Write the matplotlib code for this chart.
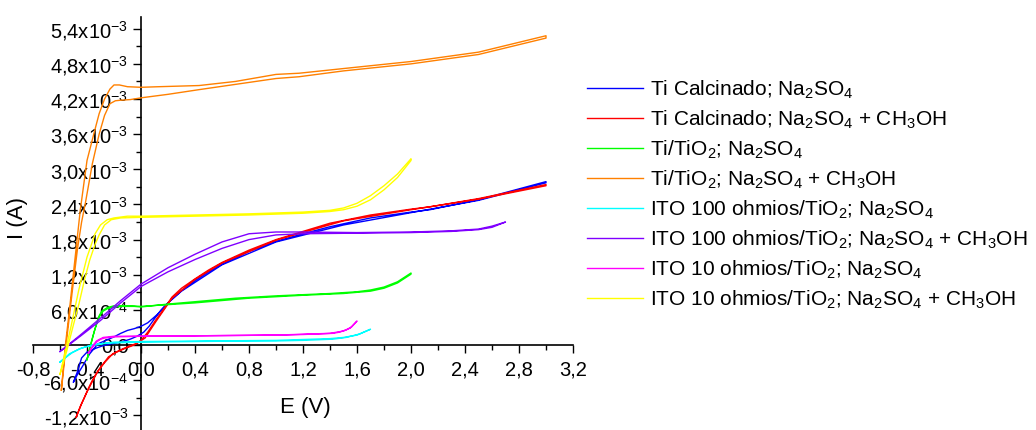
import matplotlib
matplotlib.use("Agg")
import matplotlib.pyplot as plt
from matplotlib.ticker import AutoMinorLocator

plt.rcParams['font.family'] = ['Liberation Sans', 'DejaVu Sans']
plt.rcParams['mathtext.fontset'] = 'custom'
plt.rcParams['mathtext.rm'] = 'Liberation Sans'
plt.rcParams['mathtext.it'] = 'Liberation Sans:italic'
plt.rcParams['mathtext.bf'] = 'Liberation Sans:bold'

# ---------------- data (E in V, I in mA) ----------------
labels = [
    'Ti Calcinado; Na$_2$SO$_4$',
    'Ti Calcinado; Na$_2$SO$_4$ + CH$_3$OH',
    'Ti/TiO$_2$; Na$_2$SO$_4$',
    'Ti/TiO$_2$; Na$_2$SO$_4$ + CH$_3$OH',
    'ITO 100 ohmios/TiO$_2$; Na$_2$SO$_4$',
    'ITO 100 ohmios/TiO$_2$; Na$_2$SO$_4$ + CH$_3$OH',
    'ITO 10 ohmios/TiO$_2$; Na$_2$SO$_4$',
    'ITO 10 ohmios/TiO$_2$; Na$_2$SO$_4$ + CH$_3$OH',
]
colors = ['#0000FF', '#FF0000', '#00FF00', '#FF8000',
          '#00FFFF', '#8000FF', '#FF00FF', '#FFFF00']

# Ti Calcinado; Na2SO4 (blue)
blue_E_fwd = [-0.50, -0.47, -0.44, -0.40, -0.36, -0.33, -0.28, -0.22, -0.15, -0.08, -0.03, 0.02, 0.06, 0.10, 0.15, 0.20, 0.30, 0.40, 0.50, 0.60, 0.80, 1.00, 1.20, 1.40, 1.70, 2.00, 2.14, 2.50, 3.00]
blue_I_fwd = [-0.63, -0.45, -0.22, -0.12, -0.08, -0.05, -0.01, 0.02, 0.05, 0.10, 0.15, 0.22, 0.32, 0.45, 0.60, 0.72, 0.93, 1.10, 1.25, 1.38, 1.60, 1.77, 1.90, 2.02, 2.17, 2.27, 2.31, 2.48, 2.79]
blue_E_rev = [3.00, 2.50, 2.00, 1.50, 1.00, 0.60, 0.30, 0.20, 0.12, 0.05, 0.00, -0.05, -0.10, -0.15, -0.20, -0.26, -0.32, -0.38, -0.43, -0.47, -0.50]
blue_I_rev = [2.77, 2.47, 2.26, 2.05, 1.76, 1.37, 0.92, 0.72, 0.52, 0.38, 0.32, 0.28, 0.25, 0.20, 0.14, 0.08, 0.02, -0.15, -0.35, -0.50, -0.63]

# Ti Calcinado; Na2SO4 + CH3OH (red)
red_E_fwd = [-0.48, -0.45, -0.42, -0.39, -0.36, -0.33, -0.30, -0.24, -0.18, -0.11, -0.05, 0.00, 0.05, 0.11, 0.17, 0.23, 0.30, 0.40, 0.50, 0.60, 0.80, 1.00, 1.20, 1.40, 1.70, 2.00, 2.14, 2.50, 3.00]
red_I_fwd = [-1.23, -1.05, -0.90, -0.74, -0.60, -0.48, -0.38, -0.20, -0.12, -0.05, 0.00, 0.08, 0.22, 0.43, 0.62, 0.82, 0.97, 1.13, 1.28, 1.41, 1.62, 1.80, 1.94, 2.08, 2.22, 2.32, 2.36, 2.50, 2.74]
red_E_rev = [3.00, 2.50, 2.00, 1.50, 1.00, 0.60, 0.40, 0.23, 0.11, 0.03, -0.03, -0.09, -0.15, -0.21, -0.27, -0.32, -0.36, -0.40, -0.44, -0.48]
red_I_rev = [2.72, 2.49, 2.31, 2.12, 1.79, 1.40, 1.12, 0.80, 0.40, 0.12, 0.03, -0.02, -0.08, -0.15, -0.30, -0.45, -0.62, -0.80, -1.00, -1.23]

# Ti/TiO2; Na2SO4 (green)
green_E_fwd = [-0.40, -0.38, -0.36, -0.34, -0.32, -0.30, -0.28, -0.25, -0.21, -0.15, -0.05, 0.00, 0.20, 0.40, 0.70, 1.00, 1.20, 1.40, 1.60, 1.70, 1.80, 1.90, 2.00]
green_I_fwd = [-0.25, -0.05, 0.12, 0.28, 0.42, 0.52, 0.58, 0.62, 0.64, 0.66, 0.66, 0.65, 0.70, 0.74, 0.80, 0.84, 0.86, 0.88, 0.91, 0.94, 0.99, 1.08, 1.23]
green_E_rev = [2.00, 1.90, 1.80, 1.70, 1.50, 1.20, 0.80, 0.40, 0.00, -0.10, -0.20, -0.25, -0.29, -0.31, -0.33, -0.35, -0.37, -0.40]
green_I_rev = [1.21, 1.06, 0.97, 0.92, 0.88, 0.85, 0.80, 0.72, 0.66, 0.67, 0.67, 0.64, 0.58, 0.50, 0.36, 0.20, 0.02, -0.25]

# Ti/TiO2; Na2SO4 + CH3OH (orange)
orange_E_fwd = [-0.59, -0.55, -0.51, -0.47, -0.44, -0.41, -0.36, -0.31, -0.27, -0.23, -0.19, -0.15, -0.08, 0.00, 0.20, 0.43, 0.70, 1.00, 1.17, 1.50, 2.00, 2.50, 3.00]
orange_I_fwd = [-0.77, 0.10, 0.90, 1.65, 2.10, 2.45, 3.10, 3.60, 3.92, 4.12, 4.17, 4.18, 4.19, 4.22, 4.28, 4.36, 4.45, 4.55, 4.58, 4.68, 4.80, 4.96, 5.24]
orange_E_rev = [3.00, 2.50, 2.00, 1.50, 1.17, 1.00, 0.70, 0.43, 0.13, 0.00, -0.10, -0.16, -0.20, -0.23, -0.27, -0.31, -0.35, -0.40, -0.45, -0.49, -0.53, -0.56, -0.59]
orange_I_rev = [5.28, 5.00, 4.84, 4.72, 4.64, 4.62, 4.50, 4.43, 4.41, 4.40, 4.41, 4.44, 4.44, 4.37, 4.20, 3.95, 3.60, 3.15, 2.30, 1.45, 0.60, 0.00, -0.77]

# ITO 100 ohmios/TiO2; Na2SO4 (cyan)
cyan_E_fwd = [-0.60, -0.55, -0.51, -0.46, -0.41, -0.34, -0.26, -0.15, 0.00, 0.40, 0.80, 1.00, 1.20, 1.42, 1.52, 1.62, 1.70]
cyan_I_fwd = [-0.29, -0.20, -0.13, -0.07, -0.03, 0.00, 0.03, 0.04, 0.05, 0.06, 0.07, 0.07, 0.08, 0.10, 0.13, 0.19, 0.27]
cyan_E_rev = [1.70, 1.60, 1.50, 1.40, 1.00, 0.50, 0.00, -0.20, -0.35, -0.45, -0.53, -0.60]
cyan_I_rev = [0.27, 0.17, 0.13, 0.11, 0.08, 0.07, 0.06, 0.05, 0.01, -0.06, -0.15, -0.29]

# ITO 100 ohmios/TiO2; Na2SO4 + CH3OH (violet)
violet_E_fwd = [-0.60, -0.45, -0.30, -0.15, 0.00, 0.20, 0.40, 0.60, 0.80, 1.00, 1.20, 1.60, 2.00, 2.30, 2.50, 2.60, 2.70]
violet_I_fwd = [-0.11, 0.15, 0.42, 0.72, 1.00, 1.25, 1.46, 1.65, 1.80, 1.88, 1.90, 1.91, 1.92, 1.94, 1.97, 2.01, 2.10]
violet_E_rev = [2.70, 2.60, 2.50, 2.30, 2.00, 1.60, 1.20, 1.00, 0.80, 0.60, 0.40, 0.20, 0.00, -0.15, -0.30, -0.45, -0.60]
violet_I_rev = [2.10, 2.03, 1.98, 1.95, 1.93, 1.92, 1.93, 1.93, 1.90, 1.76, 1.55, 1.32, 1.04, 0.76, 0.46, 0.17, -0.11]

# ITO 10 ohmios/TiO2; Na2SO4 (magenta)
magenta_E_fwd = [-0.39, -0.36, -0.33, -0.30, -0.27, -0.19, 0.00, 0.50, 1.00, 1.20, 1.42, 1.47, 1.52, 1.56, 1.60]
magenta_I_fwd = [-0.14, -0.04, 0.05, 0.10, 0.12, 0.14, 0.15, 0.16, 0.17, 0.18, 0.20, 0.22, 0.26, 0.31, 0.41]
magenta_E_rev = [1.60, 1.55, 1.50, 1.40, 1.00, 0.50, 0.00, -0.20, -0.28, -0.33, -0.36, -0.39]
magenta_I_rev = [0.41, 0.29, 0.24, 0.20, 0.17, 0.16, 0.15, 0.15, 0.13, 0.07, -0.02, -0.14]

# ITO 10 ohmios/TiO2; Na2SO4 + CH3OH (yellow)
yellow_E_fwd = [-0.60, -0.55, -0.50, -0.46, -0.42, -0.38, -0.34, -0.31, -0.27, -0.22, -0.15, 0.00, 0.40, 0.80, 1.20, 1.40, 1.50, 1.60, 1.70, 1.80, 1.90, 2.00]
yellow_I_fwd = [-0.50, -0.10, 0.35, 0.70, 1.10, 1.45, 1.72, 1.88, 2.05, 2.14, 2.17, 2.18, 2.20, 2.22, 2.25, 2.28, 2.31, 2.37, 2.48, 2.65, 2.86, 3.15]
yellow_E_rev = [2.00, 1.90, 1.80, 1.70, 1.60, 1.50, 1.40, 1.20, 0.80, 0.40, 0.00, -0.10, -0.20, -0.25, -0.30, -0.34, -0.40, -0.46, -0.52, -0.56, -0.60]
yellow_I_rev = [3.18, 2.92, 2.72, 2.55, 2.42, 2.34, 2.30, 2.27, 2.24, 2.22, 2.20, 2.20, 2.17, 2.14, 2.05, 1.90, 1.50, 0.95, 0.30, -0.10, -0.50]

series = [
    (blue_E_fwd + blue_E_rev, blue_I_fwd + blue_I_rev),
    (red_E_fwd + red_E_rev, red_I_fwd + red_I_rev),
    (green_E_fwd + green_E_rev, green_I_fwd + green_I_rev),
    (orange_E_fwd + orange_E_rev, orange_I_fwd + orange_I_rev),
    (cyan_E_fwd + cyan_E_rev, cyan_I_fwd + cyan_I_rev),
    (violet_E_fwd + violet_E_rev, violet_I_fwd + violet_I_rev),
    (magenta_E_fwd + magenta_E_rev, magenta_I_fwd + magenta_I_rev),
    (yellow_E_fwd + yellow_E_rev, yellow_I_fwd + yellow_I_rev),
]

xtick_vals = [-0.8, -0.4, 0.0, 0.4, 0.8, 1.2, 1.6, 2.0, 2.4, 2.8, 3.2]
xtick_labels = ['-0,8', '-0,4', '0,0', '0,4', '0,8', '1,2', '1,6', '2,0', '2,4', '2,8', '3,2']
ytick_vals = [-1.2e-3, -6.0e-4, 0.0, 6.0e-4, 1.2e-3, 1.8e-3, 2.4e-3, 3.0e-3,
              3.6e-3, 4.2e-3, 4.8e-3, 5.4e-3]
ytick_labels = ['-1,2x10$^{-3}$', '-6,0x10$^{-4}$', '0,0', '6,0x10$^{-4}$',
                '1,2x10$^{-3}$', '1,8x10$^{-3}$', '2,4x10$^{-3}$', '3,0x10$^{-3}$',
                '3,6x10$^{-3}$', '4,2x10$^{-3}$', '4,8x10$^{-3}$', '5,4x10$^{-3}$']

# ---------------- figure ----------------
W, H = 1036, 430
fig = plt.figure(figsize=(W / 100, H / 100), dpi=100)
ax = fig.add_axes([33 / W, 0, (573 - 33) / W, 1 - 17 / H])
ax.set_xlim(-0.8, 3.2)
ax.set_ylim(-1.45e-3, 5.6e-3)

for (E, I), c, lab in zip(series, colors, labels):
    ax.plot(E, [v * 1e-3 for v in I], color=c, lw=1.0, label=lab)

for side in ('top', 'right'):
    ax.spines[side].set_visible(False)
ax.spines['left'].set_position(('data', 0))
ax.spines['bottom'].set_position(('data', 0))
for side in ('left', 'bottom'):
    ax.spines[side].set_linewidth(1.2)
    ax.spines[side].set_zorder(0.5)

ax.set_xticks(xtick_vals)
ax.set_xticklabels(xtick_labels)
ax.set_yticks(ytick_vals)
ax.set_yticklabels(ytick_labels)
ax.xaxis.set_minor_locator(AutoMinorLocator(2))
ax.yaxis.set_minor_locator(AutoMinorLocator(2))
ax.tick_params(which='major', direction='out', length=6, width=1.0,
               labelsize=14.5, pad=3)
ax.tick_params(axis='x', which='major', pad=5)
ax.tick_params(which='minor', direction='out', length=3.5, width=1.0)
for t in ax.get_xticklabels() + ax.get_yticklabels():
    t.set_zorder(0.4)

fig.text(305 / W, 1 - 407 / H, 'E (V)', ha='center', va='center', fontsize=16)
fig.text(18 / W, 1 - 218 / H, 'I (A)', ha='center', va='center',
         rotation=90, fontsize=16)

fig.legend(loc='upper left', bbox_to_anchor=(587 / W, 1 - 78.5 / H),
           frameon=False, fontsize=15, handlelength=2.7, handletextpad=0.33,
           labelspacing=0.37, borderpad=0, borderaxespad=0)

fig.savefig('out.png', dpi=100)
